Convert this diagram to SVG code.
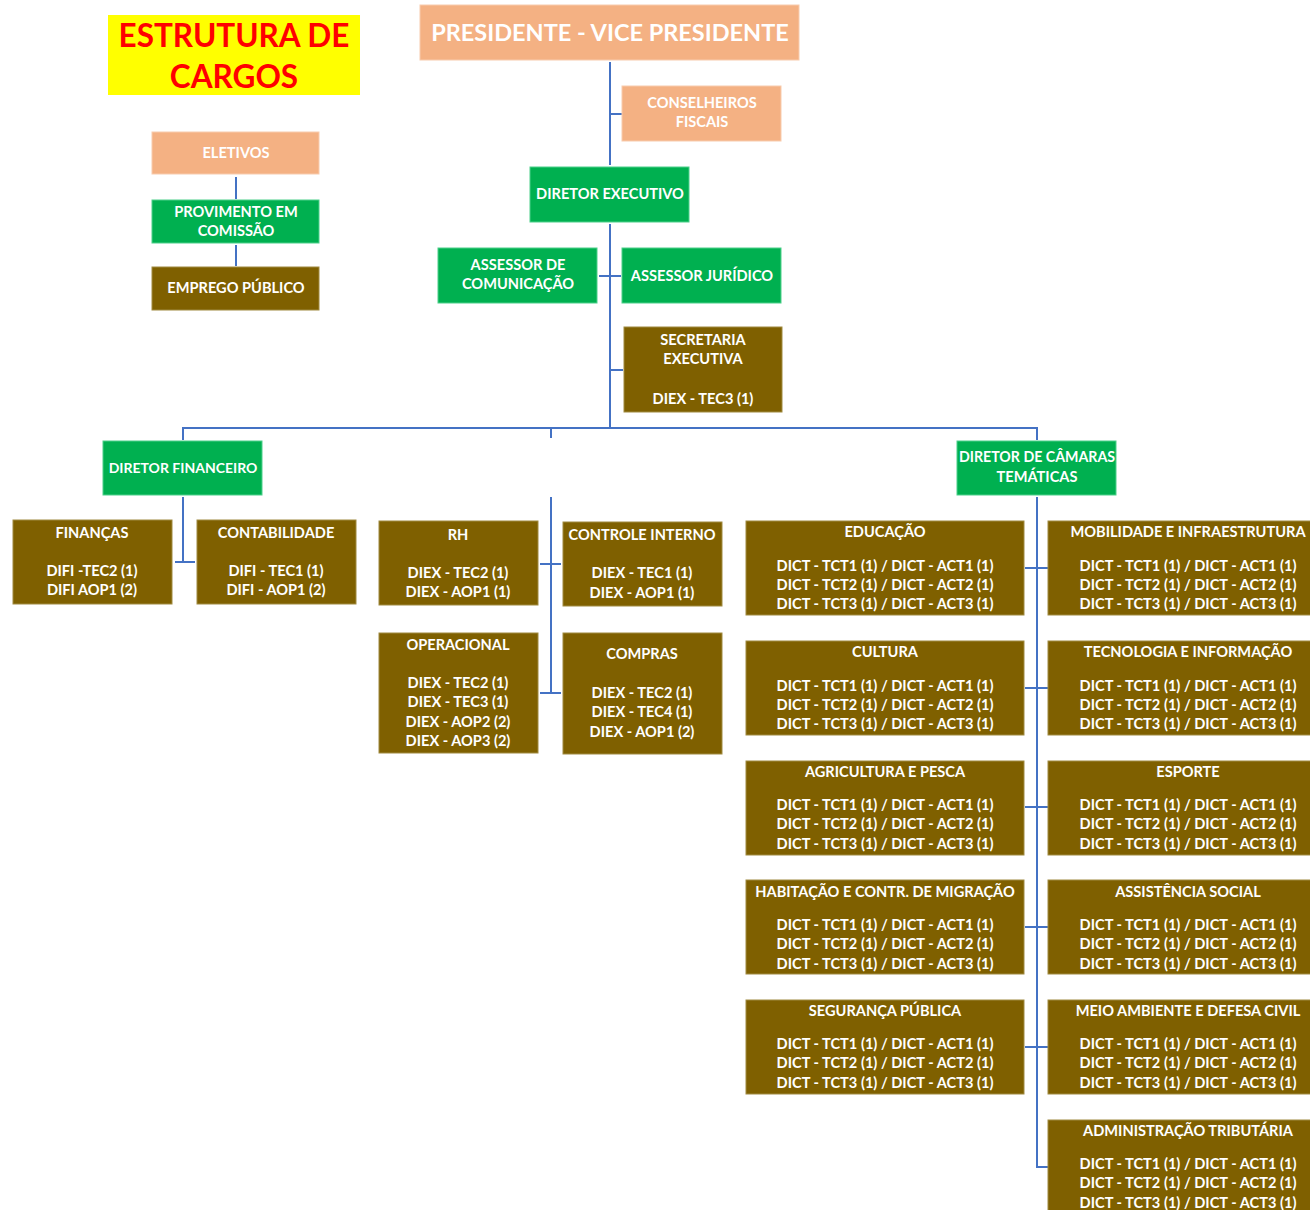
<svg xmlns="http://www.w3.org/2000/svg" width="1310" height="1210" viewBox="0 0 1310 1210">
<style>
.peach{fill:#F4B183;stroke:#F8CBAD;stroke-width:1}
.green{fill:#00B050;stroke:#4CD08A;stroke-width:1}
.brown{fill:#7F6000;stroke:#A08A40;stroke-width:1}
.t{font-family:Lato,"Liberation Sans",sans-serif;font-weight:700;font-size:14.6px;fill:#fff;text-anchor:middle}
.ln{stroke:#4472C4;stroke-width:2;fill:none}
</style>
<rect width="1310" height="1210" fill="#fff"/>
<g id="title">
<rect x="108" y="15" width="252" height="80" fill="#FFFF00"/>
<text x="234" y="47" style="font-family:Lato,'Liberation Sans',sans-serif;font-weight:700;font-size:31.5px;fill:#FF0000;text-anchor:middle">ESTRUTURA DE</text>
<text x="234" y="88" style="font-family:Lato,'Liberation Sans',sans-serif;font-weight:700;font-size:31.5px;fill:#FF0000;text-anchor:middle">CARGOS</text>
</g>
<g id="connectors">
<path class="ln" d="M236 177V199M236 245V266"/>
<path class="ln" d="M610 62V165M610 114H622M610 224V428M599 276H621M610 370H623"/>
<path class="ln" d="M183 440V428H1037V440M551 428V438"/>
<path class="ln" d="M183 497V562M175 562H195"/>
<path class="ln" d="M551 497V693M540 564H561M540 693H561"/>
<path class="ln" d="M1037 497V1167H1048M1025 568H1048M1025 688H1048M1025 807H1048M1025 927H1048M1025 1047H1048"/>
</g>
<g id="eletivos"><rect class="peach" x="152" y="132" width="167" height="42"/><text class="t" x="236" y="158">ELETIVOS</text></g>
<g id="provimento"><rect class="green" x="152" y="200" width="167" height="43"/><text class="t" x="236" y="217">PROVIMENTO EM</text><text class="t" x="236" y="236">COMISSÃO</text></g>
<g id="emprego"><rect class="brown" x="152" y="267" width="167" height="43"/><text class="t" x="236" y="293">EMPREGO PÚBLICO</text></g>
<g id="presidente"><rect class="peach" x="420" y="5" width="379" height="55"/><text class="t" x="610" y="41" style="font-size:23.5px">PRESIDENTE - VICE PRESIDENTE</text></g>
<g id="conselheiros"><rect class="peach" x="622" y="86" width="159" height="55"/><text class="t" x="702" y="108">CONSELHEIROS</text><text class="t" x="702" y="127">FISCAIS</text></g>
<g id="diretor-executivo"><rect class="green" x="530" y="167" width="159" height="55"/><text class="t" x="610" y="199">DIRETOR EXECUTIVO</text></g>
<g id="assessor-comunicacao"><rect class="green" x="438" y="248" width="159" height="55"/><text class="t" x="518" y="270">ASSESSOR DE</text><text class="t" x="518" y="289">COMUNICAÇÃO</text></g>
<g id="assessor-juridico"><rect class="green" x="622" y="248" width="159" height="55"/><text class="t" x="702" y="281">ASSESSOR JURÍDICO</text></g>
<g id="secretaria"><rect class="brown" x="624" y="327" width="158" height="85"/><text class="t" x="703" y="345">SECRETARIA</text><text class="t" x="703" y="364">EXECUTIVA</text><text class="t" x="703" y="404">DIEX - TEC3 (1)</text></g>
<g id="diretor-financeiro"><rect class="green" x="103" y="441" width="159" height="54"/><text class="t" x="183" y="473" style="font-size:14px">DIRETOR FINANCEIRO</text></g>
<g id="financas"><rect class="brown" x="13" y="520" width="159" height="84"/><text class="t" x="92" y="538">FINANÇAS</text><text class="t" x="92" y="576">DIFI -TEC2 (1)</text><text class="t" x="92" y="595">DIFI AOP1 (2)</text></g>
<g id="contabilidade"><rect class="brown" x="197" y="520" width="159" height="84"/><text class="t" x="276" y="538">CONTABILIDADE</text><text class="t" x="276" y="576">DIFI - TEC1 (1)</text><text class="t" x="276" y="595">DIFI - AOP1 (2)</text></g>
<g id="rh"><rect class="brown" x="379" y="521" width="159" height="84"/><text class="t" x="458" y="540">RH</text><text class="t" x="458" y="578">DIEX - TEC2 (1)</text><text class="t" x="458" y="597">DIEX - AOP1 (1)</text></g>
<g id="controle-interno"><rect class="brown" x="563" y="522" width="159" height="84"/><text class="t" x="642" y="540">CONTROLE INTERNO</text><text class="t" x="642" y="578">DIEX - TEC1 (1)</text><text class="t" x="642" y="598">DIEX - AOP1 (1)</text></g>
<g id="operacional"><rect class="brown" x="379" y="633" width="159" height="120"/><text class="t" x="458" y="650">OPERACIONAL</text><text class="t" x="458" y="688">DIEX - TEC2 (1)</text><text class="t" x="458" y="707">DIEX - TEC3 (1)</text><text class="t" x="458" y="727">DIEX - AOP2 (2)</text><text class="t" x="458" y="746">DIEX - AOP3 (2)</text></g>
<g id="compras"><rect class="brown" x="563" y="633" width="159" height="121"/><text class="t" x="642" y="659">COMPRAS</text><text class="t" x="642" y="698">DIEX - TEC2 (1)</text><text class="t" x="642" y="717">DIEX - TEC4 (1)</text><text class="t" x="642" y="737">DIEX - AOP1 (2)</text></g>
<g id="diretor-camaras"><rect class="green" x="957" y="441" width="159" height="54"/><text class="t" x="1037" y="462" style="font-size:14.2px">DIRETOR DE CÂMARAS</text><text class="t" x="1037" y="482">TEMÁTICAS</text></g>
<g id="educacao"><rect class="brown" x="746" y="521" width="278" height="94"/><text class="t" x="885" y="537">EDUCAÇÃO</text><text class="t" x="885" y="571">DICT - TCT1 (1) / DICT - ACT1 (1)</text><text class="t" x="885" y="590">DICT - TCT2 (1) / DICT - ACT2 (1)</text><text class="t" x="885" y="609">DICT - TCT3 (1) / DICT - ACT3 (1)</text></g>
<g id="cultura"><rect class="brown" x="746" y="641" width="278" height="94"/><text class="t" x="885" y="657">CULTURA</text><text class="t" x="885" y="691">DICT - TCT1 (1) / DICT - ACT1 (1)</text><text class="t" x="885" y="710">DICT - TCT2 (1) / DICT - ACT2 (1)</text><text class="t" x="885" y="729">DICT - TCT3 (1) / DICT - ACT3 (1)</text></g>
<g id="agricultura"><rect class="brown" x="746" y="761" width="278" height="94"/><text class="t" x="885" y="777">AGRICULTURA E PESCA</text><text class="t" x="885" y="810">DICT - TCT1 (1) / DICT - ACT1 (1)</text><text class="t" x="885" y="829">DICT - TCT2 (1) / DICT - ACT2 (1)</text><text class="t" x="885" y="849">DICT - TCT3 (1) / DICT - ACT3 (1)</text></g>
<g id="habitacao"><rect class="brown" x="746" y="880" width="278" height="94"/><text class="t" x="885" y="897">HABITAÇÃO E CONTR. DE MIGRAÇÃO</text><text class="t" x="885" y="930">DICT - TCT1 (1) / DICT - ACT1 (1)</text><text class="t" x="885" y="949">DICT - TCT2 (1) / DICT - ACT2 (1)</text><text class="t" x="885" y="969">DICT - TCT3 (1) / DICT - ACT3 (1)</text></g>
<g id="seguranca"><rect class="brown" x="746" y="1000" width="278" height="94"/><text class="t" x="885" y="1016">SEGURANÇA PÚBLICA</text><text class="t" x="885" y="1049">DICT - TCT1 (1) / DICT - ACT1 (1)</text><text class="t" x="885" y="1068">DICT - TCT2 (1) / DICT - ACT2 (1)</text><text class="t" x="885" y="1088">DICT - TCT3 (1) / DICT - ACT3 (1)</text></g>
<g id="mobilidade"><rect class="brown" x="1048" y="521" width="270" height="94"/><text class="t" x="1188" y="537">MOBILIDADE E INFRAESTRUTURA</text><text class="t" x="1188" y="571">DICT - TCT1 (1) / DICT - ACT1 (1)</text><text class="t" x="1188" y="590">DICT - TCT2 (1) / DICT - ACT2 (1)</text><text class="t" x="1188" y="609">DICT - TCT3 (1) / DICT - ACT3 (1)</text></g>
<g id="tecnologia"><rect class="brown" x="1048" y="641" width="270" height="94"/><text class="t" x="1188" y="657">TECNOLOGIA E INFORMAÇÃO</text><text class="t" x="1188" y="691">DICT - TCT1 (1) / DICT - ACT1 (1)</text><text class="t" x="1188" y="710">DICT - TCT2 (1) / DICT - ACT2 (1)</text><text class="t" x="1188" y="729">DICT - TCT3 (1) / DICT - ACT3 (1)</text></g>
<g id="esporte"><rect class="brown" x="1048" y="761" width="270" height="94"/><text class="t" x="1188" y="777">ESPORTE</text><text class="t" x="1188" y="810">DICT - TCT1 (1) / DICT - ACT1 (1)</text><text class="t" x="1188" y="829">DICT - TCT2 (1) / DICT - ACT2 (1)</text><text class="t" x="1188" y="849">DICT - TCT3 (1) / DICT - ACT3 (1)</text></g>
<g id="assistencia"><rect class="brown" x="1048" y="880" width="270" height="94"/><text class="t" x="1188" y="897">ASSISTÊNCIA SOCIAL</text><text class="t" x="1188" y="930">DICT - TCT1 (1) / DICT - ACT1 (1)</text><text class="t" x="1188" y="949">DICT - TCT2 (1) / DICT - ACT2 (1)</text><text class="t" x="1188" y="969">DICT - TCT3 (1) / DICT - ACT3 (1)</text></g>
<g id="meio-ambiente"><rect class="brown" x="1048" y="1000" width="270" height="94"/><text class="t" x="1188" y="1016">MEIO AMBIENTE E DEFESA CIVIL</text><text class="t" x="1188" y="1049">DICT - TCT1 (1) / DICT - ACT1 (1)</text><text class="t" x="1188" y="1068">DICT - TCT2 (1) / DICT - ACT2 (1)</text><text class="t" x="1188" y="1088">DICT - TCT3 (1) / DICT - ACT3 (1)</text></g>
<g id="administracao"><rect class="brown" x="1048" y="1120" width="270" height="100"/><text class="t" x="1188" y="1136">ADMINISTRAÇÃO TRIBUTÁRIA</text><text class="t" x="1188" y="1169">DICT - TCT1 (1) / DICT - ACT1 (1)</text><text class="t" x="1188" y="1188">DICT - TCT2 (1) / DICT - ACT2 (1)</text><text class="t" x="1188" y="1208">DICT - TCT3 (1) / DICT - ACT3 (1)</text></g>
</svg>
